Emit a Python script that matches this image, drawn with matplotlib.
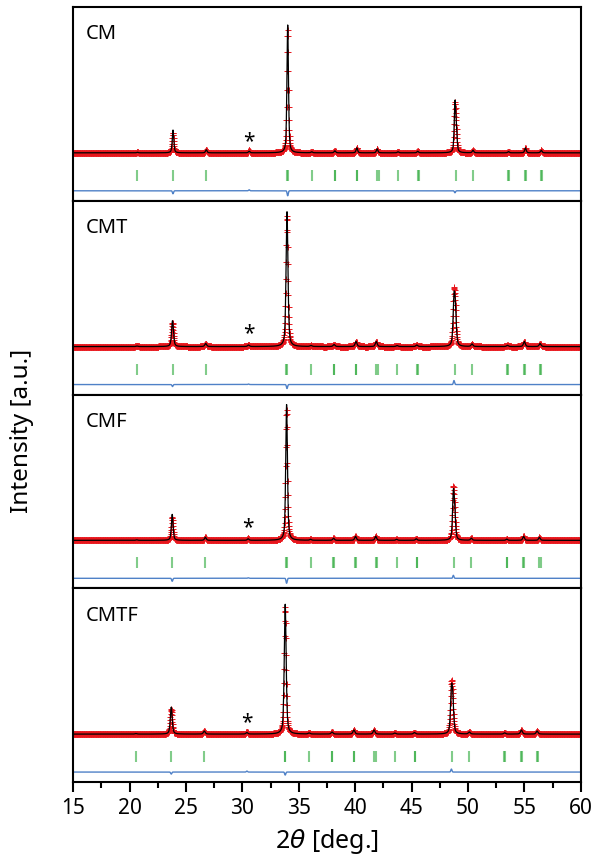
import numpy as np
import matplotlib.pyplot as plt
from matplotlib.ticker import MultipleLocator

plt.rcParams['font.family'] = ['Noto Sans', 'DejaVu Sans']

# sample names, top to bottom
samples = ['CM', 'CMT', 'CMF', 'CMTF']

# peak positions (2theta, deg); 30.6 is the impurity (*)
peak_pos = [20.7, 23.85, 26.8, 30.6, 34.02, 36.15, 38.2, 40.15, 41.95, 43.8,
            45.55, 48.85, 48.97, 50.45, 53.6, 55.1, 56.5]

# peak heights for each sample (a.u., baseline = 0)
heights_cm = [0.5, 23, 3, 1.5, 128, 1, 2, 5, 4, 1, 1.5, 48, 18, 2.5, 1.2, 5, 2.5]
heights_cmt = [0.5, 26, 3, 1.5, 135, 1, 2, 5, 5, 1, 1.5, 42, 30, 2.5, 1.2, 5, 3]
heights_cmf = [0.5, 26, 3, 1.5, 136, 1, 2, 4, 4, 1, 1.5, 44, 22, 2, 1.2, 4, 3]
heights_cmtf = [0.5, 27, 3, 1.5, 130, 1, 2, 4, 4, 1, 1.5, 38, 28, 2, 1.2, 4, 3]
heights = [heights_cm, heights_cmt, heights_cmf, heights_cmtf]

# peak width (FWHM, deg) and position scale of each sample (peaks move to lower angle)
fwhm = [0.16, 0.2, 0.18, 0.2]
pos_scale = [1.0, 0.9982, 0.9971, 0.9935]

# Bragg reflection markers (CM positions)
bragg_pos = [20.7, 23.85, 26.8, 33.97, 34.03, 36.15, 38.18, 38.22, 40.13, 40.17,
             41.95, 42.1, 43.8, 45.58, 45.62, 48.9, 50.45, 53.58, 53.62,
             55.08, 55.12, 56.45, 56.6]

# difference curve spikes: position index into peak_pos and signed size per sample
diff_idx = [1, 3, 4, 11]
diff_amp = [[-3, 1, -5, -2],
            [-2, 0.5, -4, 4],
            [-3, 0.5, -5, 3],
            [-2, 1, -3, 3]]

# asterisk height above baseline and 2theta range
star_pos = 30.6
star_y = [12, 14, 14, 13]
two_theta = np.arange(15, 60.001, 0.02)


def pv(x, c, w):
    g = np.exp(-4 * np.log(2) * ((x - c) / w) ** 2)
    l = 1 / (1 + 4 * ((x - c) / w) ** 2)
    return 0.5 * g + 0.5 * l


fig, axes = plt.subplots(4, 1, figsize=(5.95, 8.62), dpi=100, sharex=True)
fig.subplots_adjust(left=0.123, right=0.976, bottom=0.0916, top=0.9907, hspace=0)

for i, ax in enumerate(axes):
    pos = np.array(peak_pos) * pos_scale[i]
    calc = np.zeros_like(two_theta)
    for p, h in zip(pos, heights[i]):
        calc += h * pv(two_theta, p, fwhm[i])
    diff = np.zeros_like(two_theta)
    for k, a in zip(diff_idx, diff_amp[i]):
        diff += a * np.exp(-((two_theta - pos[k]) / 0.07) ** 2)
    obs = calc + diff

    ax.plot(two_theta, obs, '+', color='#e8161c', ms=4.3, mew=0.7, zorder=2)
    ax.plot(two_theta, calc, color='black', lw=0.9, zorder=3)
    ax.vlines(np.array(bragg_pos) * pos_scale[i], -28, -17, color='#2eaa3c',
              lw=1.5, alpha=0.6)
    ax.plot(two_theta, diff - 38, color='#4f81c7', lw=1.0)
    ax.text(star_pos * pos_scale[i], star_y[i], '*', ha='center', va='center',
            fontsize=15)
    ax.text(0.025, 0.915, samples[i], transform=ax.transAxes, ha='left',
            va='top', fontsize=14.5)

    ax.set_ylim(-48, 146)
    ax.set_yticks([])
    for s in ax.spines.values():
        s.set_linewidth(1.5)
    ax.tick_params(axis='x', which='both', bottom=False, labelbottom=False)

ax = axes[-1]
ax.set_xlim(15, 60)
ax.xaxis.set_major_locator(MultipleLocator(5))
ax.xaxis.set_minor_locator(MultipleLocator(2.5))
ax.tick_params(axis='x', which='major', bottom=True, labelbottom=True,
               direction='out', length=7, width=1.5, labelsize=15)
ax.tick_params(axis='x', which='minor', bottom=True, direction='out',
               length=4, width=1.5)
ax.set_xlabel(r'2$\theta$ [deg.]', fontsize=18, labelpad=6)
fig.text(0.037, 0.5, 'Intensity [a.u.]', rotation=90, ha='center',
         va='center', fontsize=17.5)

plt.savefig('out.png', dpi=100)
